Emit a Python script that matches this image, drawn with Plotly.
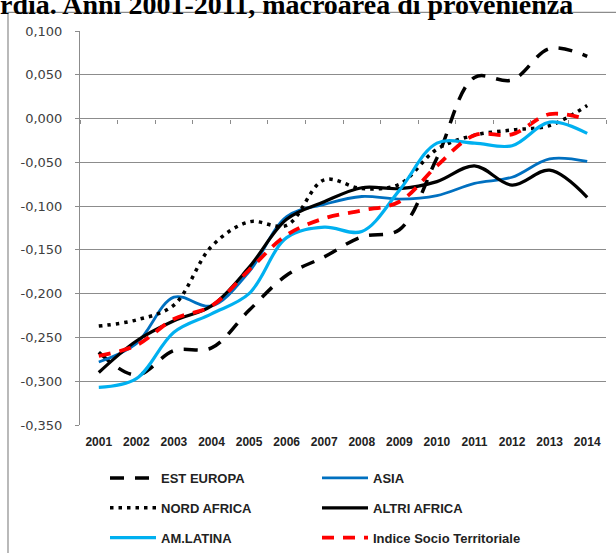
import plotly.graph_objects as go

years = ["2001", "2002", "2003", "2004", "2005", "2006", "2007",
         "2008", "2009", "2010", "2011", "2012", "2013", "2014"]

est_europa = [-0.267, -0.293, -0.265, -0.262, -0.219, -0.179, -0.158,
              -0.135, -0.127, -0.045, 0.047, 0.044, 0.080, 0.071]
asia = [-0.278, -0.257, -0.204, -0.214, -0.175, -0.112, -0.098,
        -0.089, -0.092, -0.088, -0.074, -0.067, -0.046, -0.049]
nord_africa = [-0.237, -0.230, -0.213, -0.146, -0.118, -0.122, -0.070,
               -0.080, -0.075, -0.035, -0.019, -0.013, -0.008, 0.015]
altri_africa = [-0.290, -0.254, -0.231, -0.214, -0.170, -0.115, -0.095,
                -0.079, -0.080, -0.072, -0.054, -0.076, -0.059, -0.090]
am_latina = [-0.307, -0.297, -0.244, -0.223, -0.200, -0.136, -0.124,
             -0.129, -0.082, -0.028, -0.028, -0.031, -0.004, -0.017]
indice = [-0.271, -0.259, -0.229, -0.214, -0.173, -0.133, -0.114,
          -0.105, -0.095, -0.054, -0.019, -0.018, 0.005, -0.001]

y_tickvals = [0.100, 0.050, 0.000, -0.050, -0.100, -0.150, -0.200, -0.250, -0.300, -0.350]
y_ticktext = ["0,100", "0,050", "0,000", "-0,050", "-0,100", "-0,150",
              "-0,200", "-0,250", "-0,300", "-0,350"]

title_text = "rdia. Anni 2001-2011, macroarea di provenienza"

GRID = "#8c8c8c"
W, H = 616, 553
ML, MR, MT, MB = 80, 10, 30.7, 128
PW = W - ML - MR
PH = H - MT - MB


def px_x(px):
    return (px - ML) / PW


def px_y(py):
    return (H - MB - py) / PH


series = [
    ("EST EUROPA", est_europa, dict(color="black", width=3.5, dash="14px,11px"), "legend"),
    ("ASIA", asia, dict(color="#0070C0", width=2.8), "legend2"),
    ("NORD AFRICA", nord_africa, dict(color="black", width=3.5, dash="3.5px,5px"), "legend"),
    ("ALTRI AFRICA", altri_africa, dict(color="black", width=3.2), "legend2"),
    ("AM.LATINA", am_latina, dict(color="#00B0F0", width=3.2), "legend"),
    ("Indice Socio Territoriale", indice, dict(color="#FF0000", width=3.8, dash="12px,9px"), "legend2"),
]

fig = go.Figure()
for name, vals, line, leg in series:
    fig.add_trace(go.Scatter(
        x=years, y=vals, name=name, mode="lines",
        line=dict(shape="spline", smoothing=1, **line),
        legend=leg, legendgroup=name, xaxis="x", yaxis="y",
    ))

# empty helper trace so that the bottom label axis is drawn
fig.add_trace(go.Scatter(
    x=years, y=[None] * len(years), mode="lines", showlegend=False,
    hoverinfo="skip", xaxis="x2", yaxis="y",
))

legend_common = dict(
    orientation="v", xanchor="left", yanchor="top",
    font=dict(family="Liberation Sans, Arial, sans-serif", size=13, color="#222222", weight="bold"),
    itemwidth=46, tracegroupgap=10, bgcolor="rgba(0,0,0,0)", traceorder="grouped",
)

fig.update_layout(
    width=W, height=H,
    margin=dict(l=ML, r=MR, t=MT, b=MB, autoexpand=False),
    paper_bgcolor="white", plot_bgcolor="white",
    showlegend=True,
    legend=dict(x=px_x(105), y=px_y(463), **legend_common),
    legend2=dict(x=px_x(317), y=px_y(463), **legend_common),
    xaxis=dict(
        type="category", range=[-0.5, len(years) - 0.5],
        anchor="free", position=(0 - (-0.35)) / 0.45,
        tickson="boundaries", ticks="outside", ticklen=4, tickcolor=GRID,
        showticklabels=False, showgrid=False, showline=False, zeroline=False,
    ),
    xaxis2=dict(
        type="category", overlaying="x", anchor="y", side="bottom",
        range=[-0.5, len(years) - 0.5],
        ticks="", showgrid=False, showline=False, zeroline=False,
        tickfont=dict(family="Liberation Sans, Arial, sans-serif", size=12, color="#222222", weight="bold"),
        ticklabelstandoff=8, tickangle=0,
    ),
    yaxis=dict(
        range=[-0.35, 0.1], tickmode="array", tickvals=y_tickvals, ticktext=y_ticktext,
        showgrid=True, gridcolor=GRID, gridwidth=1,
        showline=True, linecolor=GRID, linewidth=1,
        ticks="outside", ticklen=4, tickcolor=GRID,
        zeroline=False,
        tickfont=dict(family="DejaVu Sans, sans-serif", size=13, color="#404040"),
        ticklabelstandoff=10,
    ),
    shapes=[dict(
        type="rect", xref="paper", yref="paper",
        x0=px_x(8), x1=px_x(625), y0=px_y(12), y1=px_y(565),
        line=dict(color="#8c8c8c", width=1.2), fillcolor="rgba(0,0,0,0)", layer="below",
    )],
    annotations=[dict(
        text=title_text, xref="paper", yref="paper",
        x=px_x(-2), y=px_y(4), xanchor="left", yanchor="middle",
        showarrow=False,
        font=dict(family="Liberation Serif, Times New Roman, serif", size=28, color="black", weight="bold"),
    )],
)

fig.write_html("out.html", config={"displayModeBar": False},
               post_script="document.body.style.margin='0px';")
